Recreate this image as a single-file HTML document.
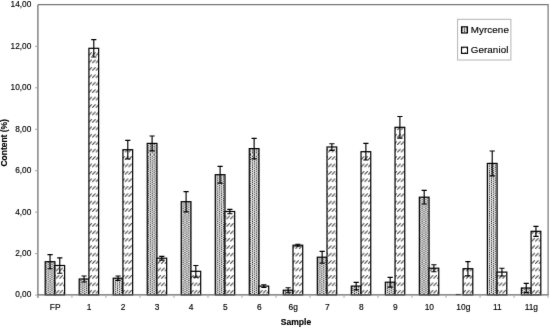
<!DOCTYPE html>
<html><head><meta charset="utf-8"><title>Content chart</title>
<style>html,body{margin:0;padding:0;background:#fff;}body{width:550px;height:328px;overflow:hidden;}svg{display:block;filter:grayscale(100%);}text{font-family:"Liberation Sans",sans-serif;stroke:#000;stroke-width:0.15px;}</style>
</head><body>
<svg width="550" height="328" viewBox="0 0 550 328">
<defs>
<pattern id="pm" x="3.328" y="1.50" width="3.855" height="2.16" patternUnits="userSpaceOnUse"><rect x="-1" y="-1" width="6" height="4" fill="#e2e2e2"/><rect x="0" y="0" width="0.964" height="1.080" fill="#222"/><rect x="1.927" y="1.080" width="0.964" height="1.080" fill="#222"/></pattern>
<pattern id="pg" x="1.28" y="3.84" width="3.631" height="7.43" patternUnits="userSpaceOnUse"><rect x="-1" y="-1" width="6" height="10" fill="#fff"/><path d="M0.25 7.180 L3.381 3.965" transform="translate(-3.631 -7.43)" stroke="#2a2a2a" stroke-width="1.0" fill="none"/><path d="M0.25 7.180 L3.381 3.965" transform="translate(-3.631 0)" stroke="#2a2a2a" stroke-width="1.0" fill="none"/><path d="M0.25 7.180 L3.381 3.965" transform="translate(-3.631 7.43)" stroke="#2a2a2a" stroke-width="1.0" fill="none"/><path d="M0.25 7.180 L3.381 3.965" transform="translate(0 -7.43)" stroke="#2a2a2a" stroke-width="1.0" fill="none"/><path d="M0.25 7.180 L3.381 3.965" transform="translate(0 0)" stroke="#2a2a2a" stroke-width="1.0" fill="none"/><path d="M0.25 7.180 L3.381 3.965" transform="translate(0 7.43)" stroke="#2a2a2a" stroke-width="1.0" fill="none"/><path d="M0.25 7.180 L3.381 3.965" transform="translate(3.631 -7.43)" stroke="#2a2a2a" stroke-width="1.0" fill="none"/><path d="M0.25 7.180 L3.381 3.965" transform="translate(3.631 0)" stroke="#2a2a2a" stroke-width="1.0" fill="none"/><path d="M0.25 7.180 L3.381 3.965" transform="translate(3.631 7.43)" stroke="#2a2a2a" stroke-width="1.0" fill="none"/></pattern>
<filter id="soft" x="0" y="0" width="550" height="328" filterUnits="userSpaceOnUse" color-interpolation-filters="sRGB"><feConvolveMatrix order="3" kernelMatrix="0.0064 0.0800 0.0064 0.0800 1.0000 0.0800 0.0064 0.0800 0.0064" divisor="1.3456" edgeMode="duplicate"/></filter>
</defs>
<g filter="url(#soft)">
<path d="M37.9 4.7 H548.1 V294.85" stroke="#777" stroke-width="1.2" fill="none"/>
<rect x="45.19" y="261.70" width="9.72" height="33.15" fill="url(#pm)" stroke="#000" stroke-width="1.2"/>
<path d="M50.05 254.65 V268.75 M47.45 254.65 H52.65 M47.45 268.75 H52.65" stroke="#000" stroke-width="1.15" fill="none"/>
<rect x="54.91" y="265.50" width="9.72" height="29.35" fill="url(#pg)" stroke="#000" stroke-width="1.2"/>
<path d="M59.77 257.80 V273.20 M57.17 257.80 H62.37 M57.17 273.20 H62.37" stroke="#000" stroke-width="1.15" fill="none"/>
<rect x="79.20" y="279.00" width="9.72" height="15.85" fill="url(#pm)" stroke="#000" stroke-width="1.2"/>
<path d="M84.06 276.00 V282.00 M81.46 276.00 H86.66 M81.46 282.00 H86.66" stroke="#000" stroke-width="1.15" fill="none"/>
<rect x="88.92" y="48.30" width="9.72" height="246.55" fill="url(#pg)" stroke="#000" stroke-width="1.2"/>
<path d="M93.78 39.65 V56.95 M91.18 39.65 H96.38 M91.18 56.95 H96.38" stroke="#000" stroke-width="1.15" fill="none"/>
<rect x="113.22" y="278.20" width="9.72" height="16.65" fill="url(#pm)" stroke="#000" stroke-width="1.2"/>
<path d="M118.07 276.00 V280.40 M115.47 276.00 H120.67 M115.47 280.40 H120.67" stroke="#000" stroke-width="1.15" fill="none"/>
<rect x="122.93" y="149.70" width="9.72" height="145.15" fill="url(#pg)" stroke="#000" stroke-width="1.2"/>
<path d="M127.79 140.40 V159.00 M125.19 140.40 H130.39 M125.19 159.00 H130.39" stroke="#000" stroke-width="1.15" fill="none"/>
<rect x="147.23" y="143.40" width="9.72" height="151.45" fill="url(#pm)" stroke="#000" stroke-width="1.2"/>
<path d="M152.09 136.00 V150.80 M149.49 136.00 H154.69 M149.49 150.80 H154.69" stroke="#000" stroke-width="1.15" fill="none"/>
<rect x="156.95" y="258.20" width="9.72" height="36.65" fill="url(#pg)" stroke="#000" stroke-width="1.2"/>
<path d="M161.81 256.30 V260.10 M159.21 256.30 H164.41 M159.21 260.10 H164.41" stroke="#000" stroke-width="1.15" fill="none"/>
<rect x="181.24" y="201.70" width="9.72" height="93.15" fill="url(#pm)" stroke="#000" stroke-width="1.2"/>
<path d="M186.10 191.60 V211.80 M183.50 191.60 H188.70 M183.50 211.80 H188.70" stroke="#000" stroke-width="1.15" fill="none"/>
<rect x="190.96" y="271.30" width="9.72" height="23.55" fill="url(#pg)" stroke="#000" stroke-width="1.2"/>
<path d="M195.82 265.50 V277.10 M193.22 265.50 H198.42 M193.22 277.10 H198.42" stroke="#000" stroke-width="1.15" fill="none"/>
<rect x="215.26" y="174.70" width="9.72" height="120.15" fill="url(#pm)" stroke="#000" stroke-width="1.2"/>
<path d="M220.11 166.30 V183.10 M217.51 166.30 H222.71 M217.51 183.10 H222.71" stroke="#000" stroke-width="1.15" fill="none"/>
<rect x="224.97" y="211.50" width="9.72" height="83.35" fill="url(#pg)" stroke="#000" stroke-width="1.2"/>
<path d="M229.83 209.30 V213.70 M227.23 209.30 H232.43 M227.23 213.70 H232.43" stroke="#000" stroke-width="1.15" fill="none"/>
<rect x="249.27" y="148.60" width="9.72" height="146.25" fill="url(#pm)" stroke="#000" stroke-width="1.2"/>
<path d="M254.13 138.40 V158.80 M251.53 138.40 H256.73 M251.53 158.80 H256.73" stroke="#000" stroke-width="1.15" fill="none"/>
<rect x="258.99" y="286.10" width="9.72" height="8.75" fill="url(#pg)" stroke="#000" stroke-width="1.2"/>
<path d="M263.85 284.70 V287.50 M261.25 284.70 H266.45 M261.25 287.50 H266.45" stroke="#000" stroke-width="1.15" fill="none"/>
<rect x="283.28" y="290.20" width="9.72" height="4.65" fill="url(#pm)" stroke="#000" stroke-width="1.2"/>
<path d="M288.14 287.70 V292.70 M285.54 287.70 H290.74 M285.54 292.70 H290.74" stroke="#000" stroke-width="1.15" fill="none"/>
<rect x="293.00" y="245.20" width="9.72" height="49.65" fill="url(#pg)" stroke="#000" stroke-width="1.2"/>
<path d="M297.86 244.20 V246.20 M295.26 244.20 H300.46 M295.26 246.20 H300.46" stroke="#000" stroke-width="1.15" fill="none"/>
<rect x="317.30" y="257.20" width="9.72" height="37.65" fill="url(#pm)" stroke="#000" stroke-width="1.2"/>
<path d="M322.15 251.30 V263.10 M319.55 251.30 H324.75 M319.55 263.10 H324.75" stroke="#000" stroke-width="1.15" fill="none"/>
<rect x="327.01" y="147.00" width="9.72" height="147.85" fill="url(#pg)" stroke="#000" stroke-width="1.2"/>
<path d="M331.87 143.70 V150.30 M329.27 143.70 H334.47 M329.27 150.30 H334.47" stroke="#000" stroke-width="1.15" fill="none"/>
<rect x="351.31" y="286.10" width="9.72" height="8.75" fill="url(#pm)" stroke="#000" stroke-width="1.2"/>
<path d="M356.17 282.30 V289.90 M353.57 282.30 H358.77 M353.57 289.90 H358.77" stroke="#000" stroke-width="1.15" fill="none"/>
<rect x="361.03" y="151.70" width="9.72" height="143.15" fill="url(#pg)" stroke="#000" stroke-width="1.2"/>
<path d="M365.89 143.40 V160.00 M363.29 143.40 H368.49 M363.29 160.00 H368.49" stroke="#000" stroke-width="1.15" fill="none"/>
<rect x="385.32" y="282.20" width="9.72" height="12.65" fill="url(#pm)" stroke="#000" stroke-width="1.2"/>
<path d="M390.18 277.30 V287.10 M387.58 277.30 H392.78 M387.58 287.10 H392.78" stroke="#000" stroke-width="1.15" fill="none"/>
<rect x="395.04" y="127.30" width="9.72" height="167.55" fill="url(#pg)" stroke="#000" stroke-width="1.2"/>
<path d="M399.90 116.50 V138.10 M397.30 116.50 H402.50 M397.30 138.10 H402.50" stroke="#000" stroke-width="1.15" fill="none"/>
<rect x="419.34" y="197.20" width="9.72" height="97.65" fill="url(#pm)" stroke="#000" stroke-width="1.2"/>
<path d="M424.19 190.40 V204.00 M421.59 190.40 H426.79 M421.59 204.00 H426.79" stroke="#000" stroke-width="1.15" fill="none"/>
<rect x="429.05" y="268.20" width="9.72" height="26.65" fill="url(#pg)" stroke="#000" stroke-width="1.2"/>
<path d="M433.91 264.70 V271.70 M431.31 264.70 H436.51 M431.31 271.70 H436.51" stroke="#000" stroke-width="1.15" fill="none"/>
<path d="M455.71 294.55 H460.71" stroke="#000" stroke-width="1.2" fill="none"/>
<rect x="463.07" y="268.70" width="9.72" height="26.15" fill="url(#pg)" stroke="#000" stroke-width="1.2"/>
<path d="M467.93 261.60 V275.80 M465.33 261.60 H470.53 M465.33 275.80 H470.53" stroke="#000" stroke-width="1.15" fill="none"/>
<rect x="487.36" y="163.40" width="9.72" height="131.45" fill="url(#pm)" stroke="#000" stroke-width="1.2"/>
<path d="M492.22 151.00 V175.80 M489.62 151.00 H494.82 M489.62 175.80 H494.82" stroke="#000" stroke-width="1.15" fill="none"/>
<rect x="497.08" y="272.10" width="9.72" height="22.75" fill="url(#pg)" stroke="#000" stroke-width="1.2"/>
<path d="M501.94 268.20 V276.00 M499.34 268.20 H504.54 M499.34 276.00 H504.54" stroke="#000" stroke-width="1.15" fill="none"/>
<rect x="521.38" y="288.00" width="9.72" height="6.85" fill="url(#pm)" stroke="#000" stroke-width="1.2"/>
<path d="M526.23 283.40 V292.60 M523.63 283.40 H528.83 M523.63 292.60 H528.83" stroke="#000" stroke-width="1.15" fill="none"/>
<rect x="531.09" y="231.30" width="9.72" height="63.55" fill="url(#pg)" stroke="#000" stroke-width="1.2"/>
<path d="M535.95 226.30 V236.30 M533.35 226.30 H538.55 M533.35 236.30 H538.55" stroke="#000" stroke-width="1.15" fill="none"/>
<path d="M37.9 4.7 V297.85" stroke="#666" stroke-width="1.2" fill="none"/>
<path d="M37.4 294.85 H548.6" stroke="#666" stroke-width="1.2" fill="none"/>
<path d="M35.1 295.05 H37.9 M35.1 253.60 H37.9 M35.1 212.15 H37.9 M35.1 170.70 H37.9 M35.1 129.25 H37.9 M35.1 87.80 H37.9 M35.1 46.35 H37.9" stroke="#a0a0a0" stroke-width="1" fill="none"/>
<path d="M37.90 294.85 V297.85 M71.91 294.85 V297.85 M105.93 294.85 V297.85 M139.94 294.85 V297.85 M173.95 294.85 V297.85 M207.97 294.85 V297.85 M241.98 294.85 V297.85 M275.99 294.85 V297.85 M310.01 294.85 V297.85 M344.02 294.85 V297.85 M378.03 294.85 V297.85 M412.05 294.85 V297.85 M446.06 294.85 V297.85 M480.07 294.85 V297.85 M514.09 294.85 V297.85 M548.10 294.85 V297.85" stroke="#a8a8a8" stroke-width="1" fill="none"/>
<text x="31.3" y="297.45" font-size="8.3" text-anchor="end" fill="#000">0,00</text>
<text x="31.3" y="256.00" font-size="8.3" text-anchor="end" fill="#000">2,00</text>
<text x="31.3" y="214.55" font-size="8.3" text-anchor="end" fill="#000">4,00</text>
<text x="31.3" y="173.10" font-size="8.3" text-anchor="end" fill="#000">6,00</text>
<text x="31.3" y="131.65" font-size="8.3" text-anchor="end" fill="#000">8,00</text>
<text x="31.3" y="90.20" font-size="8.3" text-anchor="end" fill="#000">10,00</text>
<text x="31.3" y="48.75" font-size="8.3" text-anchor="end" fill="#000">12,00</text>
<text x="31.3" y="7.30" font-size="8.3" text-anchor="end" fill="#000">14,00</text>
<text x="55.16" y="310.4" font-size="8.4" text-anchor="middle" fill="#000">FP</text>
<text x="89.17" y="310.4" font-size="8.4" text-anchor="middle" fill="#000">1</text>
<text x="123.18" y="310.4" font-size="8.4" text-anchor="middle" fill="#000">2</text>
<text x="157.20" y="310.4" font-size="8.4" text-anchor="middle" fill="#000">3</text>
<text x="191.21" y="310.4" font-size="8.4" text-anchor="middle" fill="#000">4</text>
<text x="225.22" y="310.4" font-size="8.4" text-anchor="middle" fill="#000">5</text>
<text x="259.24" y="310.4" font-size="8.4" text-anchor="middle" fill="#000">6</text>
<text x="293.25" y="310.4" font-size="8.4" text-anchor="middle" fill="#000">6g</text>
<text x="327.26" y="310.4" font-size="8.4" text-anchor="middle" fill="#000">7</text>
<text x="361.28" y="310.4" font-size="8.4" text-anchor="middle" fill="#000">8</text>
<text x="395.29" y="310.4" font-size="8.4" text-anchor="middle" fill="#000">9</text>
<text x="429.30" y="310.4" font-size="8.4" text-anchor="middle" fill="#000">10</text>
<text x="463.32" y="310.4" font-size="8.4" text-anchor="middle" fill="#000">10g</text>
<text x="497.33" y="310.4" font-size="8.4" text-anchor="middle" fill="#000">11</text>
<text x="531.34" y="310.4" font-size="8.4" text-anchor="middle" fill="#000">11g</text>
<text x="296" y="325" font-size="8.55" font-weight="bold" text-anchor="middle" fill="#000">Sample</text>
<text transform="translate(7.4 142.85) rotate(-90)" x="0" y="0" font-size="8.45" font-weight="bold" text-anchor="middle" fill="#000">Content (%)</text>
<rect x="457.6" y="19.3" width="53.3" height="40.7" fill="#fff" stroke="#b4b4b4" stroke-width="1"/>
<rect x="461.5" y="26.8" width="6" height="6.2" fill="url(#pm)" stroke="#000" stroke-width="1.1"/>
<rect x="461.5" y="47.2" width="6" height="6.2" fill="url(#pg)" stroke="#000" stroke-width="1.1"/>
<text x="470.7" y="32.6" font-size="9.8" letter-spacing="0.1" fill="#000" stroke-width="0.2">Myrcene</text>
<text x="470.7" y="53.1" font-size="9.8" letter-spacing="0.1" fill="#000" stroke-width="0.2">Geraniol</text>
</g>
</svg>
</body></html>
